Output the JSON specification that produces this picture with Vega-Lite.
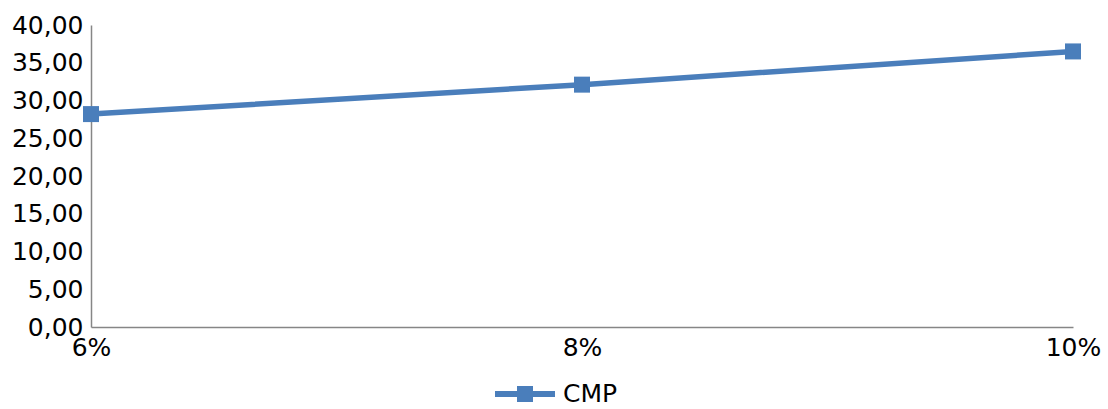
{
  "$schema": "https://vega.github.io/schema/vega-lite/v6.json",
  "width": 982,
  "height": 302,
  "autosize": {"type": "none"},
  "padding": {"left": 91, "top": 25, "right": 35, "bottom": 82},
  "background": "white",
  "data": {
    "values": [
      {"rate": "6%", "value": 28.2, "series": "CMP"},
      {"rate": "8%", "value": 32.1, "series": "CMP"},
      {"rate": "10%", "value": 36.5, "series": "CMP"}
    ]
  },
  "config": {
    "font": "DejaVu Sans",
    "view": {"stroke": null},
    "axis": {
      "grid": false,
      "ticks": false,
      "domainColor": "#868686",
      "domainWidth": 1.5,
      "labelFont": "DejaVu Sans",
      "labelFontSize": 25,
      "labelColor": "#000000",
      "title": null
    }
  },
  "encoding": {
    "x": {
      "field": "rate",
      "type": "ordinal",
      "sort": null,
      "scale": {"type": "point", "padding": 0},
      "axis": {"labelAngle": 0, "labelPadding": 8}
    },
    "y": {
      "field": "value",
      "type": "quantitative",
      "scale": {"domain": [0, 40], "nice": false},
      "axis": {
        "values": [0, 5, 10, 15, 20, 25, 30, 35, 40],
        "labelExpr": "replace(format(datum.value, '.2f'), '.', ',')",
        "labelPadding": 8
      }
    },
    "color": {
      "field": "series",
      "type": "nominal",
      "scale": {"range": ["#4a7ebb"]},
      "legend": {
        "title": null,
        "orient": "none",
        "legendX": 419,
        "legendY": 354,
        "symbolType": "M-2,-0.2L-0.533,-0.2L-0.533,-0.533L0.533,-0.533L0.533,-0.2L2,-0.2L2,0.2L0.533,0.2L0.533,0.533L-0.533,0.533L-0.533,0.2L-2,0.2Z",
        "symbolSize": 900,
        "symbolStrokeWidth": 0,
        "symbolOpacity": 1,
        "labelFont": "DejaVu Sans",
        "labelFontSize": 25,
        "labelColor": "#000000",
        "labelOffset": 23
      }
    }
  },
  "layer": [
    {"mark": {"type": "line", "strokeWidth": 5.5}},
    {"mark": {"type": "point", "shape": "square", "filled": true, "size": 256, "opacity": 1}}
  ]
}
